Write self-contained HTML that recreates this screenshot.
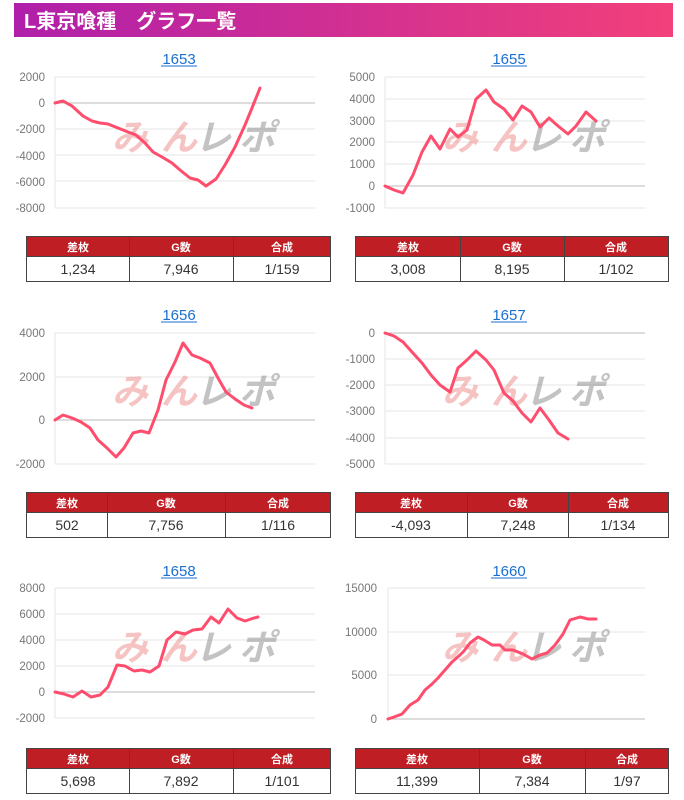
<!DOCTYPE html><html><head><meta charset="utf-8"><style>
body{margin:0;width:684px;height:795px;background:#fff;overflow:hidden;font-family:"Liberation Sans","Noto Sans CJK JP",sans-serif}
svg text{font-family:"Liberation Sans","Noto Sans CJK JP",sans-serif}
</style></head><body>
<svg width="684" height="795" xmlns="http://www.w3.org/2000/svg">
<defs><linearGradient id="g" x1="0" x2="1"><stop offset="0" stop-color="#b01faa"/><stop offset="1" stop-color="#f2407a"/></linearGradient></defs>
<rect x="14" y="3" width="659" height="34" fill="url(#g)"/>
<text x="24" y="28" fill="#fff" font-size="20" font-weight="bold">L東京喰種　グラフ一覧</text>

<g font-size="11.5" fill="#777" text-anchor="end" stroke="none">
<text x="45" y="81">2000</text><text x="45" y="107">0</text><text x="45" y="133">-2000</text><text x="45" y="160">-4000</text><text x="45" y="186">-6000</text><text x="45" y="212">-8000</text>
<text x="375" y="81">5000</text><text x="375" y="103">4000</text><text x="375" y="125">3000</text><text x="375" y="146">2000</text><text x="375" y="168">1000</text><text x="375" y="190">0</text><text x="375" y="212">-1000</text>
<text x="45" y="337">4000</text><text x="45" y="381">2000</text><text x="45" y="424">0</text><text x="45" y="468">-2000</text>
<text x="375" y="337">0</text><text x="375" y="363">-1000</text><text x="375" y="389">-2000</text><text x="375" y="415">-3000</text><text x="375" y="442">-4000</text><text x="375" y="468">-5000</text>
<text x="45" y="592">8000</text><text x="45" y="618">6000</text><text x="45" y="644">4000</text><text x="45" y="670">2000</text><text x="45" y="696">0</text><text x="45" y="722">-2000</text>
<text x="377" y="592">15000</text><text x="377" y="636">10000</text><text x="377" y="679">5000</text><text x="377" y="723">0</text>
</g>

<g stroke="#e6e6e6" stroke-width="1">
<path d="M55 77H315M55 129H315M55 155H315M55 181H315M55 208H315"/>
<path d="M385 77H645M385 99H645M385 121H645M385 142H645M385 164H645M385 208H645"/>
<path d="M55 333H315M55 377H315M55 464H315"/>
<path d="M385 359H645M385 385H645M385 411H645M385 438H645M385 464H645"/>
<path d="M55 588H315M55 614H315M55 640H315M55 666H315M55 718H315"/>
<path d="M388 588H645M388 632H645M388 675H645"/>
<path d="M55 77V208M385 77V208M55 333V464M385 333V464M55 588V718M388 588V719"/>
</g>
<g stroke="#bbb" stroke-width="1">
<path d="M55 103H315M385 186H645M55 420H315M385 333H645M55 692H315M388 719H645"/>
</g>

<g font-size="36" font-weight="bold" font-style="italic" opacity="0.5">
<text x="112" y="150" fill="#e88" textLength="85">みん</text><text x="195" y="150" fill="#888" textLength="80">レポ</text>
<text x="442" y="150" fill="#e88" textLength="85">みん</text><text x="525" y="150" fill="#888" textLength="80">レポ</text>
<text x="112" y="404" fill="#e88" textLength="85">みん</text><text x="195" y="404" fill="#888" textLength="80">レポ</text>
<text x="442" y="404" fill="#e88" textLength="85">みん</text><text x="525" y="404" fill="#888" textLength="80">レポ</text>
<text x="112" y="660" fill="#e88" textLength="85">みん</text><text x="195" y="660" fill="#888" textLength="80">レポ</text>
<text x="442" y="660" fill="#e88" textLength="85">みん</text><text x="525" y="660" fill="#888" textLength="80">レポ</text>
</g>

<g fill="none" stroke="#ff4d6d" stroke-width="3" stroke-linejoin="round" stroke-linecap="round">
<polyline points="55,103 63,101 72,106 83,116 92,121 100,123 108,124 118,128 128,132 136,135 145,143 153,152 162,157 172,163 180,170 190,178 198,180 206,186 216,179 225,165 235,147 245,125 252,108 260,88"/>
<polyline points="385,186 394,190 403,193 413,175 422,152 431,136 440,149 450,129 458,137 467,130 476,99 486,90 494,102 504,109 513,120 522,106 531,112 540,127 549,118 558,126 568,134 576,126 586,112 596,121"/>
<polyline points="55,420 63,415 72,418 81,422 90,428 98,440 107,448 116,457 124,448 133,433 141,431 149,433 158,410 166,380 175,362 183,343 192,355 200,358 210,363 218,378 226,392 235,399 244,405 252,408"/>
<polyline points="385,333 394,336 403,342 412,352 422,363 431,375 440,385 450,392 458,368 467,360 476,351 486,360 494,370 504,393 513,401 522,413 531,422 540,408 549,420 558,433 568,439"/>
<polyline points="55,692 64,694 73,697 82,691 91,697 100,695 108,687 117,665 125,666 134,671 142,670 150,672 159,666 167,640 176,632 185,634 193,630 202,629 211,617 219,623 228,609 237,618 245,621 254,618 258,617"/>
<polyline points="388,719 394,717 402,714 410,705 418,700 425,690 432,684 438,678 445,670 452,662 460,655 464,651 470,643 478,637 484,640 492,645 500,645 505,650 513,650 523,654 532,659 540,655 547,653 555,645 563,634 570,620 580,617 588,619 596,619"/>
</g>

<g font-size="15" fill="#1a6fd1" text-anchor="middle">
<text x="179" y="64">1653</text><text x="509" y="64">1655</text>
<text x="179" y="320">1656</text><text x="509" y="320">1657</text>
<text x="179" y="576">1658</text><text x="509" y="576">1660</text>
</g>
<g stroke="#1a6fd1" stroke-width="1">
<path d="M161 66H197M491 66H527M161 322H197M491 322H527M161 578H197M491 578H527"/>
</g>

<g stroke="#444" stroke-width="1">
<rect x="26.5" y="236.5" width="304" height="45" fill="#fff"/><rect x="26.5" y="236.5" width="304" height="20" fill="#bf1e24"/><path d="M129.5 236.5V281.5M233.5 236.5V281.5"/>
<rect x="355.5" y="236.5" width="313" height="45" fill="#fff"/><rect x="355.5" y="236.5" width="313" height="20" fill="#bf1e24"/><path d="M460.5 236.5V281.5M564.5 236.5V281.5"/>
<rect x="26.5" y="492.5" width="304" height="45" fill="#fff"/><rect x="26.5" y="492.5" width="304" height="20" fill="#bf1e24"/><path d="M107.5 492.5V537.5M225.5 492.5V537.5"/>
<rect x="355.5" y="492.5" width="313" height="45" fill="#fff"/><rect x="355.5" y="492.5" width="313" height="20" fill="#bf1e24"/><path d="M467.5 492.5V537.5M568.5 492.5V537.5"/>
<rect x="26.5" y="748.5" width="304" height="45" fill="#fff"/><rect x="26.5" y="748.5" width="304" height="20" fill="#bf1e24"/><path d="M129.5 748.5V793.5M233.5 748.5V793.5"/>
<rect x="355.5" y="748.5" width="313" height="45" fill="#fff"/><rect x="355.5" y="748.5" width="313" height="20" fill="#bf1e24"/><path d="M479.5 748.5V793.5M585.5 748.5V793.5"/>
</g>
<g font-size="11" font-weight="bold" fill="#fff" text-anchor="middle">
<text x="78" y="251">差枚</text><text x="181" y="251">G数</text><text x="282" y="251">合成</text>
<text x="408" y="251">差枚</text><text x="512" y="251">G数</text><text x="616" y="251">合成</text>
<text x="67" y="507">差枚</text><text x="166" y="507">G数</text><text x="278" y="507">合成</text>
<text x="411" y="507">差枚</text><text x="518" y="507">G数</text><text x="618" y="507">合成</text>
<text x="78" y="763">差枚</text><text x="181" y="763">G数</text><text x="282" y="763">合成</text>
<text x="417" y="763">差枚</text><text x="532" y="763">G数</text><text x="627" y="763">合成</text>
</g>
<g font-size="14" fill="#333" text-anchor="middle">
<text x="78" y="274">1,234</text><text x="181" y="274">7,946</text><text x="282" y="274">1/159</text>
<text x="408" y="274">3,008</text><text x="512" y="274">8,195</text><text x="616" y="274">1/102</text>
<text x="67" y="530">502</text><text x="166" y="530">7,756</text><text x="278" y="530">1/116</text>
<text x="411" y="530">-4,093</text><text x="518" y="530">7,248</text><text x="618" y="530">1/134</text>
<text x="78" y="786">5,698</text><text x="181" y="786">7,892</text><text x="282" y="786">1/101</text>
<text x="417" y="786">11,399</text><text x="532" y="786">7,384</text><text x="627" y="786">1/97</text>
</g>
</svg>
</body></html>
